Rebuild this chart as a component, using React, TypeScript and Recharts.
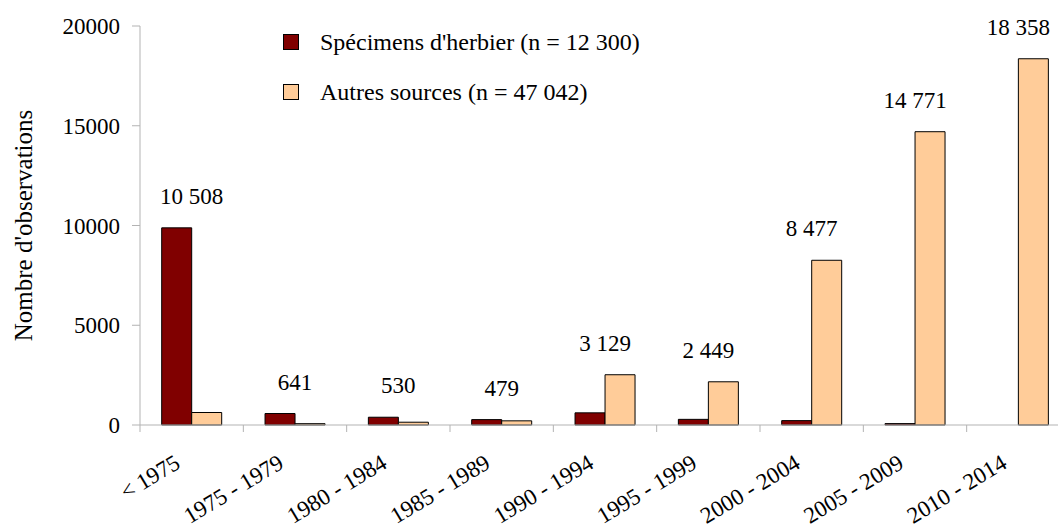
import { Bar, ComposedChart, LabelList, Legend, Line, XAxis, YAxis } from 'recharts'

const FONT = "'Liberation Serif', 'DejaVu Serif', serif"
const AXIS = '#b3b3b3'
const DARK = '#800000'
const LIGHT = '#FFCC99'

const periods = ['< 1975', '1975 - 1979', '1980 - 1984', '1985 - 1989', '1990 - 1994', '1995 - 1999', '2000 - 2004', '2005 - 2009', '2010 - 2014']
const herbier = [9882, 575, 390, 270, 610, 283, 220, 70, 0]
const autres = [626, 66, 140, 209, 2519, 2166, 8257, 14701, 18358]
const yTicks = [0, 5000, 10000, 15000, 20000]

const legendItems = [
  { label: "Spécimens d'herbier (n = 12 300)", color: DARK },
  { label: 'Autres sources (n = 47 042)', color: LIGHT },
]

function spaced(n: number) {
  return String(n).replace(/\B(?=(\d{3})+(?!\d))/g, ' ')
}

const data = periods.map((period, i) => ({
  period,
  herbier: herbier[i],
  autres: autres[i],
  peak: Math.max(herbier[i], autres[i]),
  total: spaced(herbier[i] + autres[i]),
}))

const BAND = (1070 - 140) / periods.length

function PeriodTick({ x, y, payload }: any) {
  const ax = x - 10
  const ay = y + 34
  return (
    <g>
      <line x1={x - BAND / 2} x2={x - BAND / 2} y1={y - 8} y2={y - 1} stroke={AXIS} />
      <text x={ax} y={ay} transform={`rotate(-31, ${ax}, ${ay})`} textAnchor="end" fontSize={23} fontFamily={FONT} fill="#000">
        {payload.value}
      </text>
    </g>
  )
}

function YTitle({ viewBox }: any) {
  const cx = 23
  const cy = viewBox.y + viewBox.height / 2
  return (
    <text x={cx} y={cy} transform={`rotate(-90, ${cx}, ${cy})`} textAnchor="middle" dominantBaseline="central" fontSize={25} fontFamily={FONT} fill="#000">
      Nombre d'observations
    </text>
  )
}

function LegendBox() {
  return (
    <div style={{ fontFamily: FONT, fontSize: 24, color: '#000' }}>
      {legendItems.map((item) => (
        <div key={item.label} style={{ display: 'flex', alignItems: 'center', height: 50 }}>
          <span style={{ display: 'inline-block', width: 14, height: 14, background: item.color, border: '1px solid #000', marginRight: 21 }} />
          <span>{item.label}</span>
        </div>
      ))}
    </div>
  )
}

export default function App() {
  return (
    <div style={{ position: 'fixed', left: 0, top: 0, width: 1058, height: 531, overflow: 'hidden', background: '#fff' }}>
      <ComposedChart
        width={1080}
        height={531}
        data={data}
        margin={{ top: 26, right: 10, bottom: 0, left: 0 }}
        barCategoryGap="21%"
        barGap={0}
      >
        <XAxis dataKey="period" height={106} interval={0} axisLine={{ stroke: AXIS }} tickLine={false} tick={<PeriodTick />} />
        <YAxis
          width={140}
          domain={[0, 20000]}
          ticks={yTicks}
          interval={0}
          axisLine={{ stroke: AXIS }}
          tickLine={{ stroke: AXIS }}
          tickSize={8}
          tickMargin={12}
          tick={{ fontSize: 23, fontFamily: FONT, fill: '#000' }}
          label={{ content: YTitle }}
        />
        <Legend
          layout="horizontal"
          verticalAlign="middle"
          align="center"
          content={<LegendBox />}
          wrapperStyle={{ position: 'absolute', left: 283, top: 17, width: 460, height: 100 }}
        />
        <Bar dataKey="herbier" fill={DARK} stroke="#000" strokeWidth={1} isAnimationActive={false} />
        <Bar dataKey="autres" fill={LIGHT} stroke="#000" strokeWidth={1} isAnimationActive={false} />
        <Line dataKey="peak" stroke="none" dot={false} activeDot={false} legendType="none" isAnimationActive={false}>
          <LabelList dataKey="total" position="top" offset={24} fontSize={23} fontFamily={FONT} fill="#000" />
        </Line>
      </ComposedChart>
    </div>
  )
}
